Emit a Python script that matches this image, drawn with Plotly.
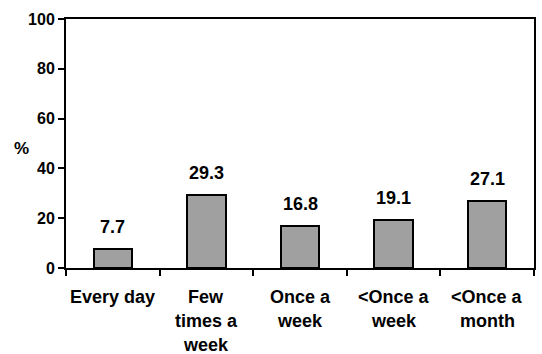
import plotly.graph_objects as go

categories = ["Every day", "Few<br>times a<br>week", "Once a<br>week", "<Once a<br>week", "<Once a<br>month"]
percent = [7.7, 29.3, 16.8, 19.1, 27.1]
y_ticks = [0, 20, 40, 60, 80, 100]

FONT = "Liberation Sans, Arial, sans-serif"

fig = go.Figure()
fig.add_trace(go.Bar(
    x=categories,
    y=percent,
    width=0.41,
    marker=dict(color="#a0a0a0", line=dict(color="black", width=2)),
    hoverinfo="skip",
))

# value labels above each bar
for c, v in zip(categories, percent):
    fig.add_annotation(
        x=c, y=v, xref="x", yref="y",
        text=f"{v:.1f}", showarrow=False,
        yanchor="middle", yshift=22,
        font=dict(family=FONT, size=18, color="black", weight="bold"),
    )

# category labels, one line at a time for wider line spacing
for c in categories:
    for i, line in enumerate(c.split("<br>")):
        fig.add_annotation(
            x=c, y=0, xref="x", yref="y",
            text=line.replace("<", "&lt;"), showarrow=False,
            xanchor="center", yanchor="middle",
            yshift=-(29 + 24 * i),
            font=dict(family=FONT, size=18, color="black", weight="bold"),
        )

# horizontal "%" axis label
fig.add_annotation(
    x=0, y=0.48, xref="paper", yref="paper",
    text="%", showarrow=False, xanchor="center", yanchor="middle",
    xshift=-45,
    font=dict(family=FONT, size=17, color="black", weight="bold"),
)

fig.update_layout(
    width=542, height=354,
    margin=dict(l=66, r=8, t=19, b=86),
    paper_bgcolor="white", plot_bgcolor="white",
    showlegend=False,
    bargap=0,
)
fig.update_xaxes(
    type="category",
    tickson="boundaries",
    showticklabels=False,
    automargin=False,
    ticks="outside", ticklen=6, tickwidth=2, tickcolor="black",
    showline=True, linewidth=2, linecolor="black", mirror=True,
    showgrid=False,
)
fig.update_yaxes(
    range=[0, 100],
    tickvals=y_ticks,
    automargin=False,
    ticks="outside", ticklen=6, tickwidth=2, tickcolor="black",
    showline=True, linewidth=2, linecolor="black", mirror=True,
    showgrid=False, zeroline=False,
    tickfont=dict(family=FONT, size=16, color="black", weight="bold"),
)

fig.write_html("out.html")
